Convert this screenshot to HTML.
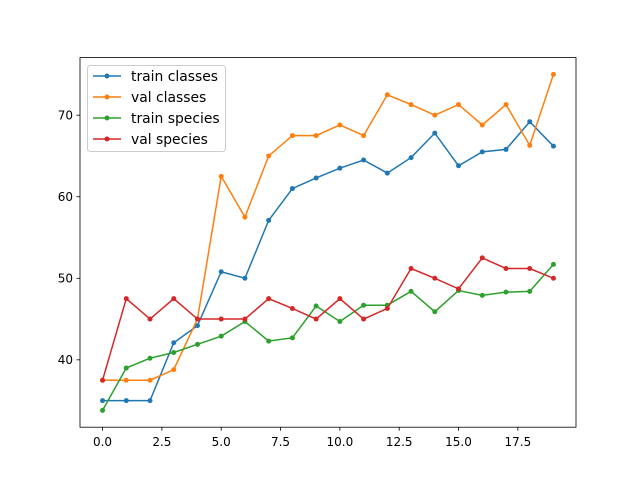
<!DOCTYPE html>
<html><head><meta charset="utf-8"><style>
body{margin:0;background:#fff}
svg{font-family:"DejaVu Sans","Liberation Sans",sans-serif}
</style></head><body>
<svg id="chart" width="640" height="480" xmlns="http://www.w3.org/2000/svg">
<rect width="640" height="480" fill="#fff"/>
</svg>
<script>
const epochs=[0,1,2,3,4,5,6,7,8,9,10,11,12,13,14,15,16,17,18,19];
const trainClasses=[35,35,35,42.1,44.2,50.8,50,57.1,61,62.3,63.5,64.5,62.9,64.8,67.8,63.8,65.5,65.8,69.2,66.2];
const valClasses=[37.5,37.5,37.5,38.8,45,62.5,57.5,65,67.5,67.5,68.8,67.5,72.5,71.3,70,71.3,68.8,71.3,66.3,75];
const trainSpecies=[33.8,39,40.2,40.9,41.9,42.9,44.7,42.3,42.7,46.6,44.7,46.7,46.7,48.4,45.9,48.5,47.9,48.3,48.4,51.7];
const valSpecies=[37.5,47.5,45,47.5,45,45,45,47.5,46.3,45,47.5,45,46.3,51.2,50,48.7,52.5,51.2,51.2,50];
const xTicks=[0,2.5,5,7.5,10,12.5,15,17.5];
const xTickLabels=["0.0","2.5","5.0","7.5","10.0","12.5","15.0","17.5"];
const yTicks=[40,50,60,70];
const seriesNames=["train classes","val classes","train species","val species"];
const seriesColors=["#1f77b4","#ff7f0e","#2ca02c","#d62728"];
const allSeries=[trainClasses,valClasses,trainSpecies,valSpecies];

const L=80,R=576,T=57.6,B=427.2;
const xmin=-0.95,xmax=19.95;
const all=allSeries.flat();const dmin=Math.min(...all),dmax=Math.max(...all),pad=(dmax-dmin)*0.05;
const ymin=dmin-pad,ymax=dmax+pad;
const sx=v=>L+(v-xmin)/(xmax-xmin)*(R-L);
const sy=v=>B-(v-ymin)/(ymax-ymin)*(B-T);
const svg=document.getElementById('chart');const NS="http://www.w3.org/2000/svg";
function mk(tag,attrs,parent){const e=document.createElementNS(NS,tag);for(const k in attrs)e.setAttribute(k,attrs[k]);(parent||svg).appendChild(e);return e;}

xTicks.forEach((t,i)=>{const x=sx(t);
const tk=mk('line',{x1:x,x2:x,y1:B,y2:B+3.5,stroke:'#000','stroke-width':0.8});


const tx=mk('text',{x:x,y:B+19,'font-size':12,'text-anchor':'middle'});tx.textContent=xTickLabels[i];

});
yTicks.forEach(t=>{const y=sy(t);
const tk=mk('line',{x1:L-3.5,x2:L,y1:y,y2:y,stroke:'#000','stroke-width':0.8});


const tx=mk('text',{x:L-7,y:y+4.3,'font-size':12,'text-anchor':'end'});tx.textContent=t;

});

allSeries.forEach((s,si)=>{const g=mk('g',{});


const pts=s.map((v,i)=>sx(epochs[i])+','+sy(v)).join(' ');
mk('polyline',{points:pts,fill:'none',stroke:seriesColors[si],'stroke-width':1.5},g);
s.forEach((v,i)=>{const c=mk('circle',{cx:sx(epochs[i]),cy:sy(v),r:2.5,fill:seriesColors[si]},g);

});});

const frame=mk('rect',{x:L,y:T,width:R-L,height:B-T,fill:'none',stroke:'#000','stroke-width':0.8});



const lg=mk('g',{});


mk('rect',{x:87.5,y:65.5,width:138,height:86,rx:3,fill:'#fff','fill-opacity':0.8,stroke:'#ccc','stroke-width':1},lg);
seriesNames.forEach((n,i)=>{const y=76+i*21;
const e=mk('g',{},lg);


mk('line',{x1:93,x2:121,y1:y,y2:y,stroke:seriesColors[i],'stroke-width':1.5},e);
mk('circle',{cx:107,cy:y,r:2.5,fill:seriesColors[i]},e);
const t=mk('text',{x:131,y:y+5,'font-size':13.9},e);t.textContent=n;});
</script>
</body></html>
